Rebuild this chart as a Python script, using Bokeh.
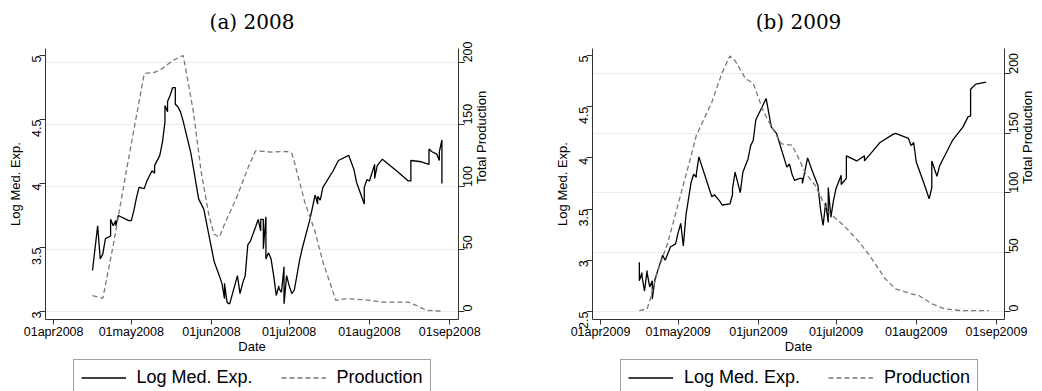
import math
import pandas as pd
from bokeh.plotting import figure
from bokeh.models import (Range1d, LinearAxis, FixedTicker, Grid, Legend,
                          LegendItem, Label)
from bokeh.layouts import row, column
from bokeh.embed import file_html
from bokeh.resources import INLINE

# ---------------- data ----------------
titles = ["(a) 2008", "(b) 2009"]

a_exp_dates = ["2008-04-16", "2008-04-18", "2008-04-19", "2008-04-20", "2008-04-21", "2008-04-23", "2008-04-23",
               "2008-04-24", "2008-04-25", "2008-04-25", "2008-04-26", "2008-04-30", "2008-05-01", "2008-05-02",
               "2008-05-03", "2008-05-04", "2008-05-06", "2008-05-07", "2008-05-09", "2008-05-10", "2008-05-10",
               "2008-05-12", "2008-05-13", "2008-05-14", "2008-05-14", "2008-05-15", "2008-05-15", "2008-05-16",
               "2008-05-17", "2008-05-18", "2008-05-18", "2008-05-19", "2008-05-20", "2008-05-21", "2008-05-24",
               "2008-05-27", "2008-05-29", "2008-06-02", "2008-06-04", "2008-06-05", "2008-06-06", "2008-06-06",
               "2008-06-07", "2008-06-08", "2008-06-11", "2008-06-12", "2008-06-13", "2008-06-14", "2008-06-15",
               "2008-06-16", "2008-06-18", "2008-06-19", "2008-06-20", "2008-06-20", "2008-06-21", "2008-06-21",
               "2008-06-22", "2008-06-22", "2008-06-23", "2008-06-24", "2008-06-25", "2008-06-26", "2008-06-27",
               "2008-06-27", "2008-06-28", "2008-06-29", "2008-06-29", "2008-06-30", "2008-07-01", "2008-07-02",
               "2008-07-03", "2008-07-05", "2008-07-06", "2008-07-09", "2008-07-11", "2008-07-12", "2008-07-12",
               "2008-07-13", "2008-07-14", "2008-07-18", "2008-07-20", "2008-07-24", "2008-07-26", "2008-07-27",
               "2008-07-30", "2008-07-30", "2008-07-31", "2008-08-01", "2008-08-03", "2008-08-03", "2008-08-04",
               "2008-08-06", "2008-08-12", "2008-08-16", "2008-08-17", "2008-08-17", "2008-08-21", "2008-08-24",
               "2008-08-24", "2008-08-25", "2008-08-27", "2008-08-28", "2008-08-28", "2008-08-29", "2008-08-29"]
a_exp = [3.32, 3.67, 3.41, 3.45, 3.57, 3.59, 3.72,
         3.67, 3.71, 3.67, 3.75, 3.71, 3.71, 3.79,
         3.89, 3.97, 3.96, 4.02, 4.10, 4.08, 4.14,
         4.22, 4.32, 4.48, 4.61, 4.56, 4.64, 4.69,
         4.75, 4.75, 4.62, 4.60, 4.56, 4.49, 4.24,
         3.88, 3.80, 3.39, 3.28, 3.22, 3.10, 3.22,
         3.07, 3.06, 3.28, 3.14, 3.22, 3.28, 3.52,
         3.55, 3.66, 3.72, 3.63, 3.72, 3.72, 3.49,
         3.74, 3.41, 3.46, 3.41, 3.28, 3.125, 3.20,
         3.18, 3.15, 3.35, 3.06, 3.28, 3.20, 3.14,
         3.17, 3.40, 3.49, 3.72, 3.91, 3.84, 3.90,
         3.87, 3.97, 4.10, 4.18, 4.22, 4.11, 4.01,
         3.84, 3.97, 4.03, 4.02, 4.15, 4.04, 4.14,
         4.19, 4.09, 4.02, 4.02, 4.18, 4.17, 4.15,
         4.27, 4.25, 4.23, 4.18, 4.25, 4.34, 4.00]

a_prod_dates = ["2008-04-16", "2008-04-20", "2008-04-24", "2008-04-29", "2008-05-06", "2008-05-10", "2008-05-13",
                "2008-05-17", "2008-05-21", "2008-05-22", "2008-05-25", "2008-05-28", "2008-05-31", "2008-06-02",
                "2008-06-04", "2008-06-06", "2008-06-11", "2008-06-15", "2008-06-18", "2008-06-24", "2008-06-30",
                "2008-07-02", "2008-07-03", "2008-07-07", "2008-07-11", "2008-07-14", "2008-07-19", "2008-07-22",
                "2008-07-25", "2008-08-01", "2008-08-06", "2008-08-16", "2008-08-19", "2008-08-23", "2008-08-29"]
a_prod = [12.8, 10.7, 53, 112, 191, 192, 195,
          201.5, 205.5, 195, 160, 112, 77, 62,
          59.7, 70, 93, 115, 129, 128, 128.5,
          127, 120, 88, 64, 40, 9, 10,
          10.2, 9, 7.5, 7.5, 5, 1, 0.3]

b_exp_dates = ["2009-04-16", "2009-04-16", "2009-04-17", "2009-04-17", "2009-04-18", "2009-04-19", "2009-04-19",
               "2009-04-20", "2009-04-21", "2009-04-21", "2009-04-22", "2009-04-24", "2009-04-25", "2009-04-26",
               "2009-04-28", "2009-04-30", "2009-05-01", "2009-05-02", "2009-05-03", "2009-05-04", "2009-05-06",
               "2009-05-07", "2009-05-08", "2009-05-08", "2009-05-09", "2009-05-14", "2009-05-15", "2009-05-17",
               "2009-05-18", "2009-05-21", "2009-05-22", "2009-05-22", "2009-05-23", "2009-05-25", "2009-05-26",
               "2009-05-28", "2009-05-29", "2009-05-30", "2009-05-31", "2009-06-04", "2009-06-06", "2009-06-08",
               "2009-06-12", "2009-06-13", "2009-06-14", "2009-06-15", "2009-06-17", "2009-06-18", "2009-06-18",
               "2009-06-20", "2009-06-22", "2009-06-24", "2009-06-25", "2009-06-26", "2009-06-27", "2009-06-28",
               "2009-06-28", "2009-06-29", "2009-06-30", "2009-07-01", "2009-07-03", "2009-07-03", "2009-07-05",
               "2009-07-05", "2009-07-09", "2009-07-12", "2009-07-12", "2009-07-16", "2009-07-18", "2009-07-23",
               "2009-07-24", "2009-07-29", "2009-07-30", "2009-07-31", "2009-08-01", "2009-08-04", "2009-08-06",
               "2009-08-07", "2009-08-07", "2009-08-09", "2009-08-10", "2009-08-15", "2009-08-19", "2009-08-21",
               "2009-08-22", "2009-08-22", "2009-08-24", "2009-08-28"]
b_exp = [2.98, 2.80, 2.88, 2.85, 2.70, 2.90, 2.88,
         2.74, 2.80, 2.62, 2.81, 2.97, 3.05, 3.00,
         3.13, 3.16, 3.27, 3.36, 3.14, 3.44, 3.76,
         3.84, 3.81, 3.84, 4.01, 3.62, 3.64, 3.58,
         3.54, 3.55, 3.64, 3.70, 3.86, 3.66, 3.86,
         3.99, 4.12, 4.17, 4.37, 4.58, 4.30, 4.24,
         3.91, 3.94, 3.84, 3.78, 3.80, 3.80, 3.75,
         4.00, 3.86, 3.73, 3.50, 3.34, 3.56, 3.37,
         3.71, 3.42, 3.58, 3.70, 3.83, 3.74, 3.80,
         4.02, 3.97, 4.02, 3.97, 4.09, 4.15, 4.23,
         4.24, 4.19, 4.12, 4.15, 3.96, 3.75, 3.60,
         3.71, 3.97, 3.82, 3.92, 4.17, 4.30, 4.40,
         4.41, 4.67, 4.72, 4.74]

b_prod_dates = ["2009-04-16", "2009-04-19", "2009-04-20", "2009-04-23", "2009-04-27", "2009-05-06", "2009-05-08",
                "2009-05-14", "2009-05-18", "2009-05-21", "2009-05-23", "2009-05-27", "2009-05-30", "2009-06-03",
                "2009-06-08", "2009-06-10", "2009-06-14", "2009-06-17", "2009-06-19", "2009-06-23", "2009-06-28",
                "2009-07-04", "2009-07-10", "2009-07-14", "2009-07-20", "2009-07-24", "2009-07-30", "2009-08-02",
                "2009-08-07", "2009-08-12", "2009-08-18", "2009-08-29"]
b_prod = [0.8, 2.2, 9, 33, 58, 131, 148,
          176, 201, 215, 211, 196, 192, 168,
          148, 141, 140, 127, 117, 106, 83.5,
          72.4, 58.3, 47, 27.5, 19.1, 14.9, 13.5,
          6.5, 2.2, 0.8, 0.8]

month_ticks_2008 = ["2008-04-01", "2008-05-01", "2008-06-01", "2008-07-01", "2008-08-01", "2008-09-01"]
month_labels_2008 = ["01apr2008", "01may2008", "01jun2008", "01jul2008", "01aug2008", "01sep2008"]
month_ticks_2009 = ["2009-04-01", "2009-05-01", "2009-06-01", "2009-07-01", "2009-08-01", "2009-09-01"]
month_labels_2009 = ["01apr2009", "01may2009", "01jun2009", "01jul2009", "01aug2009", "01sep2009"]

a_left_ticks = [3, 3.5, 4, 4.5, 5]
a_left_labels = ["3", "3.5", "4", "4.5", "5"]
b_left_ticks = [2.5, 3, 3.5, 4, 4.5, 5]
b_left_labels = ["2.5", "3", "3.5", "4", "4.5", "5"]
prod_ticks = [0, 50, 100, 150, 200]
prod_labels = ["0", "50", "100", "150", "200"]

series_names = ["Log Med. Exp.", "Production"]
x_label = "Date"
y_label = "Log Med. Exp."
y2_label = "Total Production"

SANS = "Liberation Sans"
AXIS_COL = "#333333"
EXP_STYLE = dict(line_color="black", line_width=1.3)
PROD_STYLE = dict(line_color="#7a7a7a", line_width=1.3, line_dash="5 3")

PANEL_W = 521
TITLE_H = 40
MAIN_H = 318
LEG_H = 33
LEG_BOX_H = 35


def ms(s):
    return pd.Timestamp(s).value // 10**6


def style_axis(ax, ticks, labels, vertical_labels):
    ax.ticker = FixedTicker(ticks=ticks)
    ax.major_label_overrides = {t: l for t, l in zip(ticks, labels)}
    ax.major_label_text_font = SANS
    ax.major_label_text_font_size = "12.5px"
    ax.major_label_text_color = "black"
    ax.major_label_text_line_height = 1.0
    ax.axis_label_text_font = SANS
    ax.axis_label_text_font_size = "13px"
    ax.axis_label_text_font_style = "normal"
    ax.axis_label_text_color = "black"
    ax.axis_label_text_line_height = 1.0
    ax.axis_line_color = AXIS_COL
    ax.major_tick_line_color = AXIS_COL
    ax.major_tick_out = 6
    ax.major_tick_in = 0
    ax.minor_tick_line_color = None
    ax.major_label_standoff = 3
    ax.axis_label_standoff = 2
    if vertical_labels:
        ax.major_label_orientation = math.pi / 2


def blank_fig(h):
    f = figure(width=PANEL_W, height=h, output_backend="svg", toolbar_location=None,
               x_range=Range1d(0, 1), y_range=Range1d(0, 1),
               x_axis_location=None, y_axis_location=None,
               min_border_left=0, min_border_right=0, min_border_top=0, min_border_bottom=0,
               frame_width=PANEL_W, frame_height=h)
    f.outline_line_color = None
    f.xgrid.visible = False
    f.ygrid.visible = False
    f.background_fill_color = "white"
    f.border_fill_color = "white"
    return f


def title_fig(text, cx):
    f = blank_fig(TITLE_H)
    f.add_layout(Label(x=cx, y=TITLE_H - 21, x_units="screen", y_units="screen", text=text,
                       text_font="DejaVu Serif", text_font_size="20px", text_align="center",
                       text_baseline="middle", text_color="black"))
    return f


def legend_fig(lx):
    f = blank_fig(LEG_H)
    nan = float("nan")
    # placeholder renderers (no visible marks) so that the legend can draw its glyphs
    r1 = f.line([nan], [nan], **EXP_STYLE)
    r2 = f.line([nan], [nan], **PROD_STYLE)
    leg = Legend(items=[LegendItem(label=series_names[0], renderers=[r1]),
                        LegendItem(label=series_names[1], renderers=[r2])],
                 orientation="horizontal", location=(lx, LEG_H - 3 - LEG_BOX_H),
                 label_text_font=SANS, label_text_font_size="18px", label_text_color="black",
                 label_text_line_height=1.0,
                 glyph_width=45, glyph_height=21, label_height=21, label_standoff=11,
                 spacing=28, padding=7, margin=0,
                 border_line_color="#444444", border_line_width=1,
                 background_fill_color="white", background_fill_alpha=1.0)
    f.add_layout(leg, "center")
    return f


def make_panel(exp_dates, exp_vals, prod_dates, prod_vals,
               mticks, mlabels, yticks, ylabels, ylo, yhi, plo, phi,
               bl, br, fw, xpad_l, xpad_r):
    year_start = pd.Timestamp(mticks[0])
    year_end = pd.Timestamp(mticks[-1])
    p = figure(width=bl + fw + br, height=MAIN_H, output_backend="svg",
               toolbar_location=None, x_axis_type="datetime",
               x_range=Range1d(year_start - pd.Timedelta(days=xpad_l), year_end + pd.Timedelta(days=xpad_r)),
               y_range=Range1d(ylo, yhi),
               min_border_left=bl, min_border_right=br, min_border_top=8, min_border_bottom=39,
               frame_width=fw, frame_height=271)
    p.extra_y_ranges = {"prod": Range1d(plo, phi)}
    p.outline_line_color = None
    p.background_fill_color = "white"
    p.border_fill_color = "white"
    p.xgrid.visible = False
    p.ygrid.visible = False
    p.add_layout(Grid(dimension=1, ticker=FixedTicker(ticks=prod_ticks), y_range_name="prod",
                      grid_line_color="#e6eef0", grid_line_width=1.2), "center")

    p.line(pd.to_datetime(exp_dates), exp_vals, **EXP_STYLE)
    p.line(pd.to_datetime(prod_dates), prod_vals, y_range_name="prod", **PROD_STYLE)

    xa = p.xaxis[0]
    style_axis(xa, [ms(t) for t in mticks], mlabels, False)
    xa.major_tick_out = 5
    xa.major_label_standoff = 0
    xa.axis_label_standoff = -3
    xa.axis_label = x_label
    ya = p.yaxis[0]
    style_axis(ya, yticks, ylabels, True)
    ya.axis_label = y_label

    ra = LinearAxis(y_range_name="prod", axis_label=y2_label)
    style_axis(ra, prod_ticks, prod_labels, True)
    if "axis_label_orientation" in LinearAxis.properties():
        ra.axis_label_orientation = math.pi / 2
    p.add_layout(ra, "right")
    return p


p1 = make_panel(a_exp_dates, a_exp, a_prod_dates, a_prod,
                month_ticks_2008, month_labels_2008, a_left_ticks, a_left_labels,
                2.9375, 5.055, -6.42, 211.1, 45, 63, 413, 3.15, 3.4)
p2 = make_panel(b_exp_dates, b_exp, b_prod_dates, b_prod,
                month_ticks_2009, month_labels_2009, b_left_ticks, b_left_labels,
                2.422, 5.068, -6.73, 221.3, 71, 38, 412, 3.1, 3.1)

t1 = title_fig(titles[0], 251.5)
t2 = title_fig(titles[1], 277)
l1 = legend_fig(72.5)
l2 = legend_fig(99)

layout = column(row(t1, t2, spacing=0), row(p1, p2, spacing=0), row(l1, l2, spacing=0), spacing=0)
open("out.html", "w").write(file_html(layout, INLINE))
